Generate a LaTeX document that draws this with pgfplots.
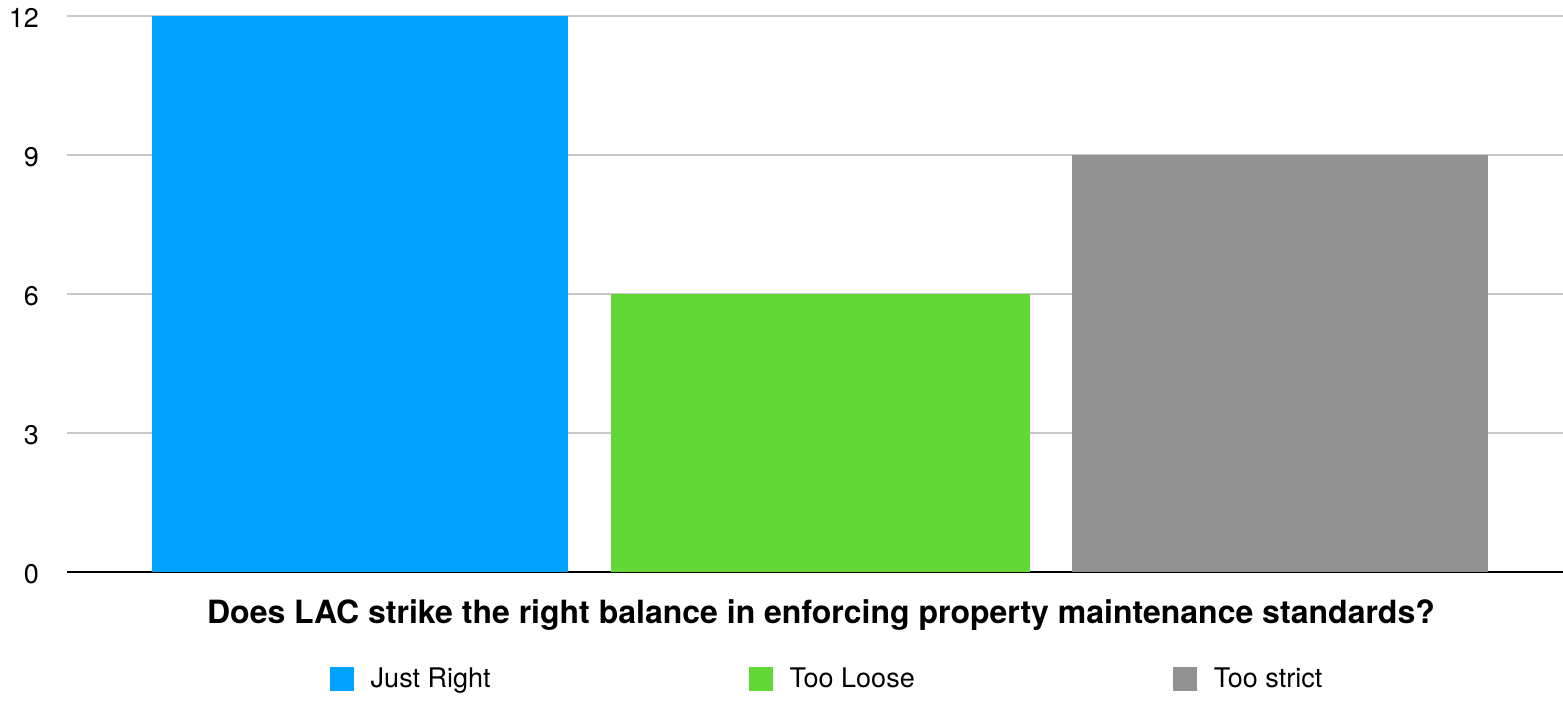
\documentclass[border=0pt]{standalone}
\usepackage{fontspec}
\setmainfont{TeX Gyre Heros}
\usepackage{pgfplots}
\pgfplotsset{compat=1.18}
\definecolor{cblue}{HTML}{00A2FF}
\definecolor{cgreen}{HTML}{61D836}
\definecolor{cgray}{HTML}{929292}
\definecolor{cgrid}{HTML}{C8C8C8}
\begin{document}
\begin{tikzpicture}
\path[use as bounding box] (0,0) rectangle (781.5pt,351.5pt);
\begin{axis}[
  at={(33.5pt,65.5pt)}, anchor=south west,
  scale only axis, width=748pt, height=278pt,
  xmin=0, xmax=1496, ymin=0, ymax=12,
  ytick={0,3,6,9,12},
  xtick=\empty,
  axis x line*=bottom, axis y line*=left,
  y axis line style={draw=none},
  x axis line style={line width=1.3pt, black, -},
  ymajorgrids, grid style={cgrid, line width=0.9pt},
  major tick length=0pt,
  /pgf/number format/assume math mode=true,
  yticklabel style={font=\fontsize{13.5}{16}\selectfont, anchor=east, xshift=-10.5pt, yshift=-1.2pt},
  ybar, bar width=416, bar shift=0pt,
  clip=false,
  legend columns=3,
  legend style={draw=none, fill=none, at={(0.5,-63.5pt)}, anchor=south, xshift=6.5pt,
    font=\fontsize{13.5}{16}\selectfont,
    /tikz/every even column/.append style={column sep=127pt},
    /tikz/every odd column/.append style={column sep=6.5pt}},
  legend image code/.code={\fill[#1,draw=none] (0pt,-6pt) rectangle (12pt,6pt);},
]
\addplot[fill=cblue, draw=none] coordinates {(293,12)};
\addlegendentry{Just Right}
\addplot[fill=cgreen, draw=none, bar width=419] coordinates {(753.5,6)};
\addlegendentry{Too Loose}
\addplot[fill=cgray, draw=none] coordinates {(1213,9)};
\addlegendentry{Too strict}
\end{axis}
\node[font=\bfseries\fontsize{16}{19}\selectfont] at (410.5pt,44pt) {Does LAC strike the right balance in enforcing property maintenance standards?};
\end{tikzpicture}
\end{document}
